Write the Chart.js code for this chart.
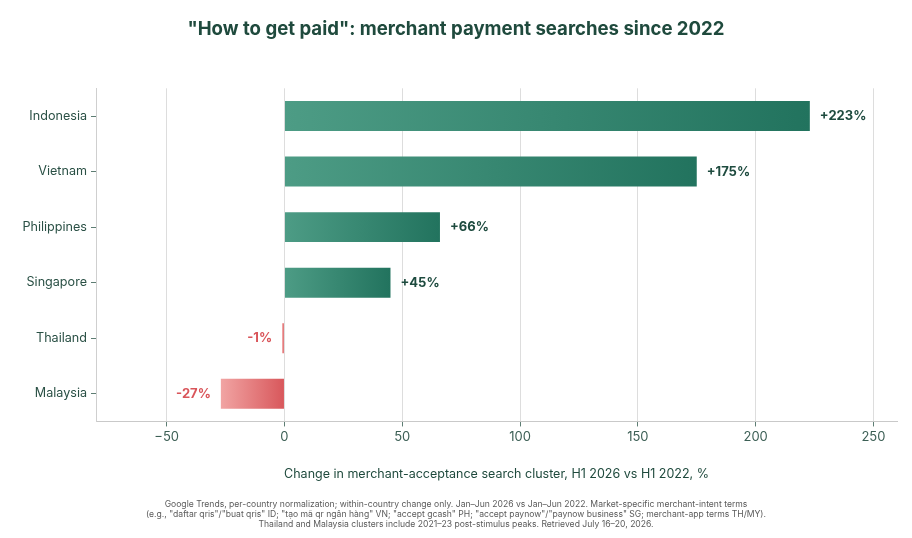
<!DOCTYPE html>
<html>
<head>
<meta charset="utf-8">
<script src="https://cdn.jsdelivr.net/npm/chart.js@4"></script>
<style>
  html, body { margin: 0; padding: 0; background: #ffffff; }
  #wrap { width: 912px; height: 538px; position: relative; }
</style>
</head>
<body>
<div id="wrap"><canvas id="c"></canvas></div>
<script>
const categories = ["Indonesia", "Vietnam", "Philippines", "Singapore", "Thailand", "Malaysia"];
const changePct = [223, 175, 66, 45, -1, -27];
const xTickValues = [-50, 0, 50, 100, 150, 200, 250];
const titleText = '"How to get paid": merchant payment searches since 2022';
const xAxisTitle = "Change in merchant-acceptance search cluster, H1 2026 vs H1 2022, %";
const footnoteLines = [
  "Google Trends, per-country normalization; within-country change only. Jan\u2013Jun 2026 vs Jan\u2013Jun 2022. Market-specific merchant-intent terms",
  "(e.g., \"daftar qris\"/\"buat qris\" ID; \"t\u1ea1o m\u00e3 qr ng\u00e2n h\u00e0ng\" VN; \"accept gcash\" PH; \"accept paynow\"/\"paynow business\" SG; merchant-app terms TH/MY).",
  "Thailand and Malaysia clusters include 2021\u201323 post-stimulus peaks. Retrieved July 16\u201320, 2026."
];

const FONT = "Inter, 'Noto Sans', 'DejaVu Sans', sans-serif";

function barFill(ctx) {
  const chart = ctx.chart;
  if (!chart.chartArea) return '#3a8a75';
  const xs = chart.scales.x;
  const v = ctx.raw;
  const x0 = xs.getPixelForValue(0), x1 = xs.getPixelForValue(v);
  const a = Math.min(x0, x1), b = Math.max(x0, x1) + 0.01;
  const g = chart.ctx.createLinearGradient(a, 0, b, 0);
  if (v >= 0) {
    g.addColorStop(0, '#4d9c85');
    g.addColorStop(1, '#22735e');
  } else {
    g.addColorStop(0, '#f1a4a3');
    g.addColorStop(1, '#d8575b');
  }
  return g;
}

const valueLabels = {
  id: 'valueLabels',
  afterDatasetsDraw(chart) {
    const c = chart.ctx;
    const meta = chart.getDatasetMeta(0);
    c.save();
    c.font = "bold 13px " + FONT;
    c.textBaseline = 'middle';
    meta.data.forEach((bar, i) => {
      const v = changePct[i];
      const txt = (v >= 0 ? '+' : '') + v + '%';
      if (v >= 0) {
        c.fillStyle = '#1e4b3f';
        c.textAlign = 'left';
        c.fillText(txt, bar.x + 10, bar.y);
      } else {
        c.fillStyle = '#d9555a';
        c.textAlign = 'right';
        c.fillText(txt, bar.x - 10, bar.y);
      }
    });
    c.restore();
  }
};

new Chart(document.getElementById('c'), {
  type: 'bar',
  data: {
    labels: categories,
    datasets: [{
      data: changePct,
      backgroundColor: barFill,
      borderWidth: 0,
      barPercentage: 0.54,
      categoryPercentage: 1.0
    }]
  },
  plugins: [valueLabels],
  options: {
    indexAxis: 'y',
    responsive: true,
    maintainAspectRatio: false,
    animation: false,
    devicePixelRatio: 1,
    layout: { padding: { left: 15, right: 15, top: 0, bottom: 0 } },
    plugins: {
      legend: { display: false },
      tooltip: { enabled: false },
      title: {
        display: true,
        text: titleText,
        color: '#1f4a3d',
        font: { family: FONT, size: 18.6, weight: 'bold', lineHeight: 1.2 },
        padding: { top: 18, bottom: 48 }
      },
      subtitle: {
        display: true,
        position: 'bottom',
        text: footnoteLines,
        color: '#5a5a5a',
        font: { family: FONT, size: 8.6, lineHeight: 1.2 },
        padding: { top: 17, bottom: 8 }
      }
    },
    scales: {
      x: {
        type: 'linear',
        min: -80,
        max: 260,
        z: 1,
        afterBuildTicks(scale) {
          scale.ticks = xTickValues.map(v => ({ value: v }));
        },
        ticks: {
          color: '#3c5f55',
          font: { family: FONT, size: 13 },
          padding: 3,
          callback: v => v < 0 ? '\u2212' + Math.abs(v) : String(v)
        },
        grid: {
          color: 'rgba(180,180,180,0.45)',
          lineWidth: 1,
          tickLength: 5,
          tickColor: '#5d7d73',
          drawTicks: true
        },
        border: { display: true, color: '#c9c9c9', width: 1 },
        title: {
          display: true,
          text: xAxisTitle,
          color: '#1f4a3d',
          font: { family: FONT, size: 12.5, lineHeight: 1.2 },
          padding: { top: 19, bottom: 0 }
        }
      },
      y: {
        afterFit(scale) { scale.width = 81; },
        ticks: {
          color: '#2a5045',
          font: { family: FONT, size: 12.6 },
          padding: 4
        },
        grid: {
          offset: false,
          drawOnChartArea: false,
          drawTicks: true,
          tickLength: 5,
          tickColor: '#5d7d73',
          color: '#cfcfcf'
        },
        border: { display: true, color: '#cfcfcf', width: 1 }
      }
    }
  }
});
</script>
</body>
</html>
